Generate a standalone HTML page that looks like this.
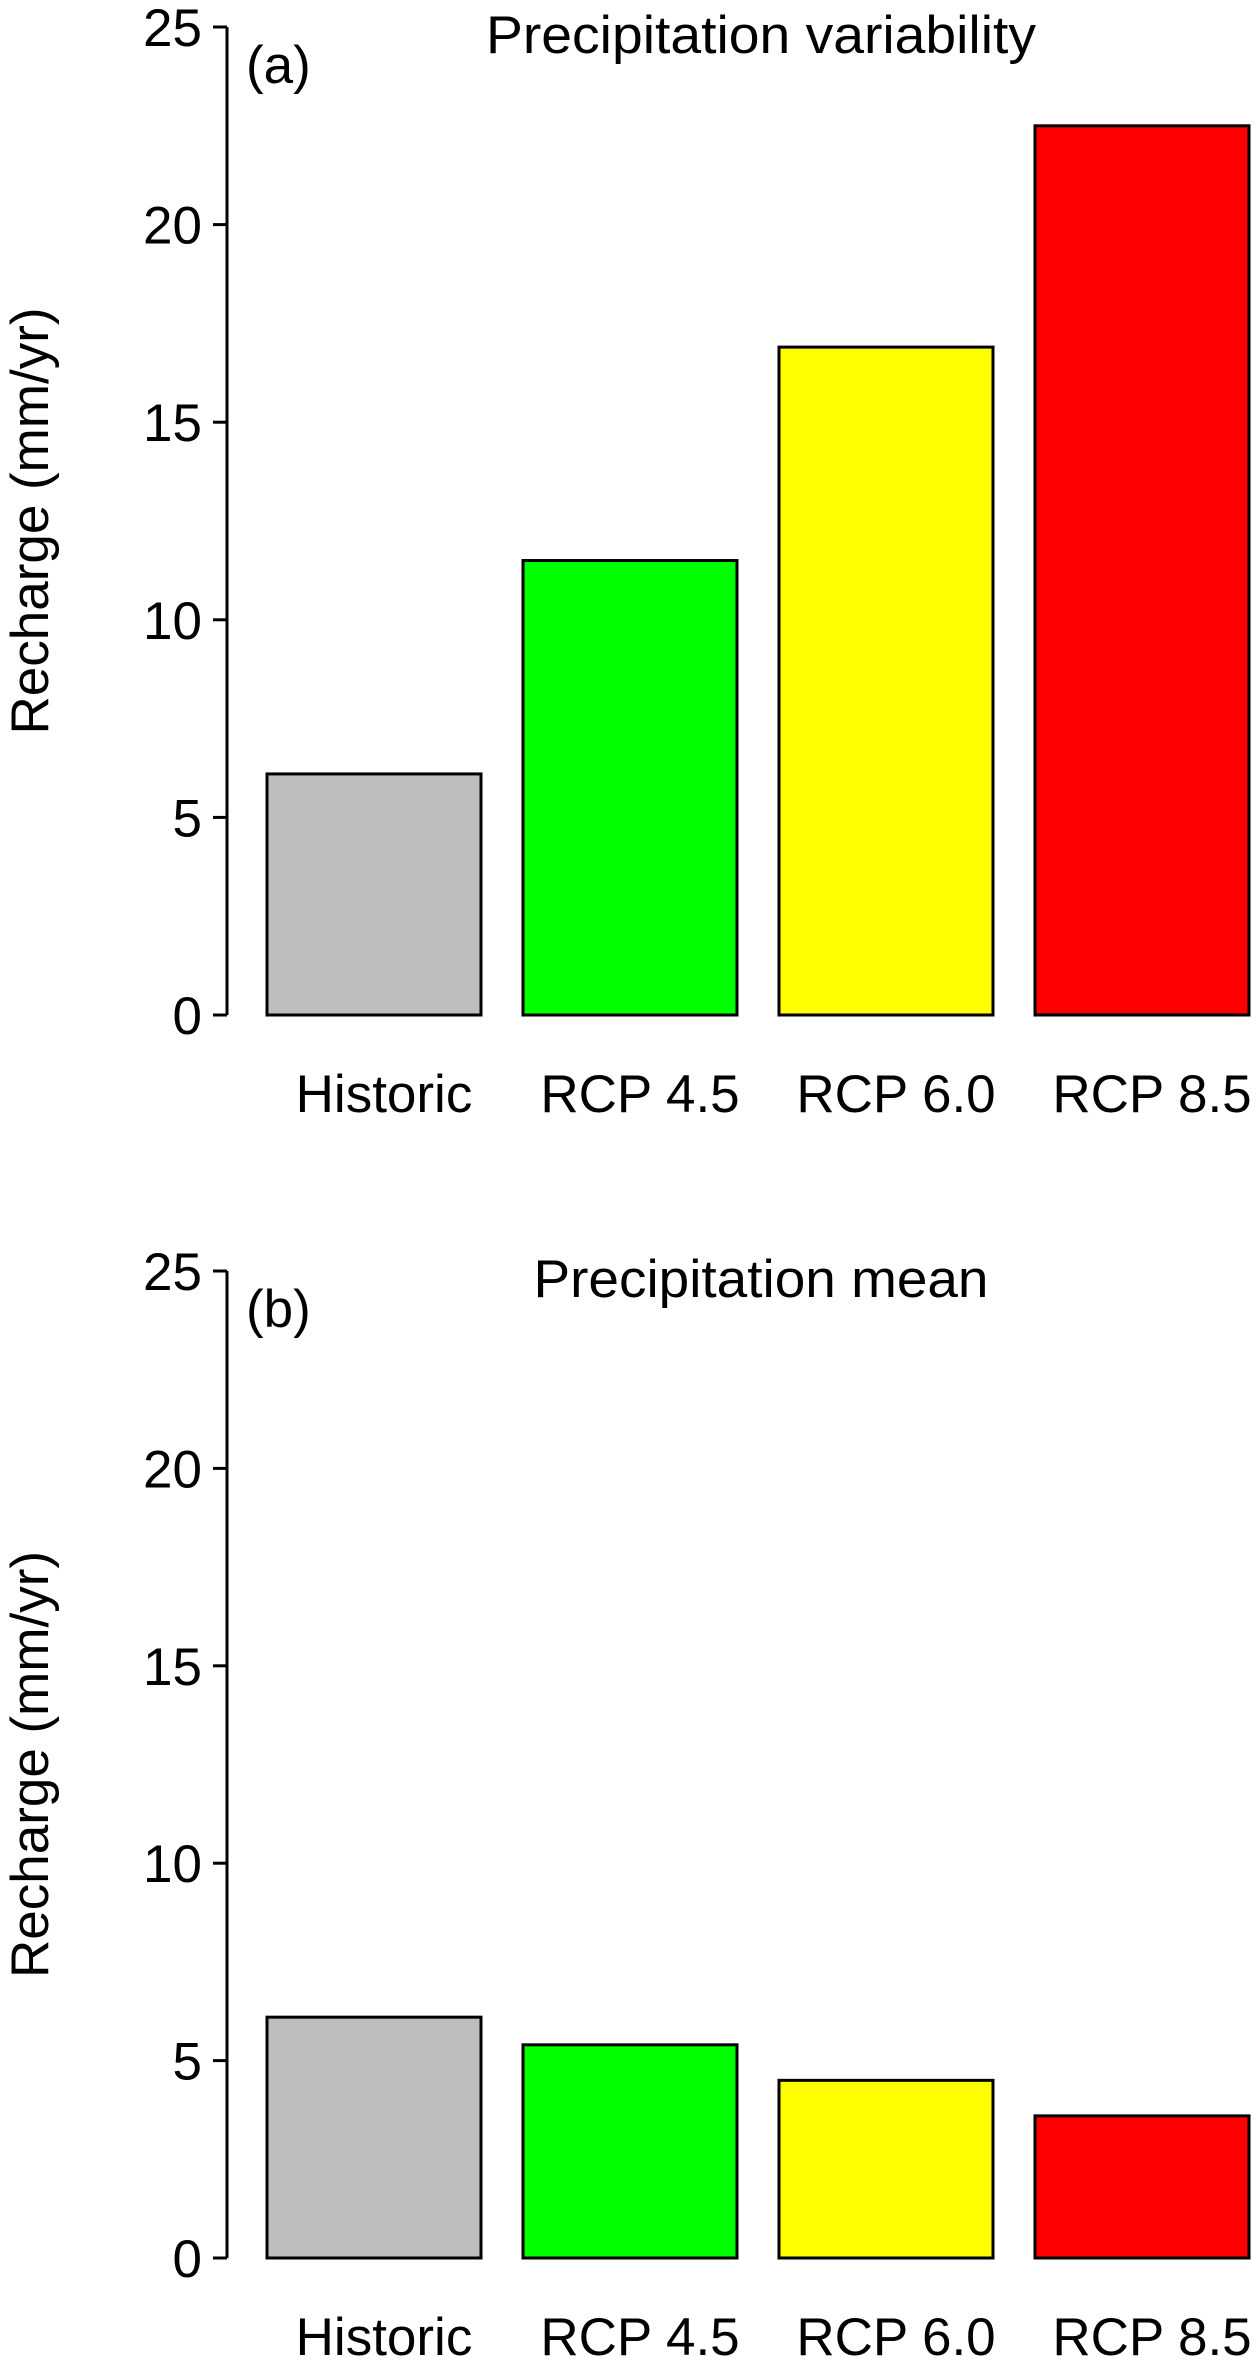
<!DOCTYPE html>
<html><head><meta charset="utf-8"><style>
html,body{margin:0;padding:0;background:#fff;}
svg{display:block;font-family:"Liberation Sans",Arial,sans-serif;}
</style></head><body>
<svg id="chart" width="1258" height="2375" viewBox="0 0 1258 2375" xmlns="http://www.w3.org/2000/svg"></svg>
<script>
const categories = ["Historic", "RCP 4.5", "RCP 6.0", "RCP 8.5"];
const colors = ["#bebebe", "#00ff00", "#ffff00", "#ff0000"];
const variabilityValues = [6.1, 11.5, 16.9, 22.5];
const meanValues = [6.1, 5.4, 4.5, 3.6];
const yTicks = [0, 5, 10, 15, 20, 25];

const NS = "http://www.w3.org/2000/svg";
const svg = document.getElementById("chart");
function mk(tag, attrs, parent) {
  const e = document.createElementNS(NS, tag);
  for (const k in attrs) e.setAttribute(k, attrs[k]);
  (parent || svg).appendChild(e);
  return e;
}

function panel(id, values, title, letter, top, bottom) {
  const g = mk("g", {});
  
  
  const yMax = 25;
  const y = v => bottom - (v / yMax) * (bottom - top);
  const axisX = 227;
  const x = i => 267 + i * 256;
  const barW = 214;

  const axis = mk("line", {x1: axisX, x2: axisX, y1: y(25), y2: y(0), stroke: "#000", "stroke-width": 3}, g);
  
  
  yTicks.forEach(t => {
    const tk = mk("line", {x1: axisX - 14, x2: axisX, y1: y(t), y2: y(t), stroke: "#000", "stroke-width": 3}, g);
    
    
    const tl = mk("text", {x: 202, y: y(t) + 19, "text-anchor": "end", "font-size": 53}, g);
    tl.textContent = t;
    
    
  });

  values.forEach((v, i) => {
    const r = mk("rect", {x: x(i), y: y(v), width: barW, height: y(0) - y(v), fill: colors[i], stroke: "#000", "stroke-width": 3}, g);
    
    
    const cl = mk("text", {x: x(i) + barW / 2 + 10, y: bottom + 97, "text-anchor": "middle", "font-size": 53}, g);
    cl.textContent = categories[i];
    
    
  });

  const tt = mk("text", {x: 761, y: top + 26, "text-anchor": "middle", "font-size": 53, textLength: title.length > 20 ? 550 : 455, lengthAdjust: "spacingAndGlyphs"}, g);
  tt.textContent = title;
  
  

  const pl = mk("text", {x: 246, y: top + 56, "font-size": 53}, g);
  pl.textContent = letter;
  
  

  const cy = (top + bottom) / 2;
  const yl = mk("text", {x: 0, y: 0, "text-anchor": "middle", "font-size": 53, transform: "translate(48," + cy + ") rotate(-90)"}, g);
  yl.textContent = "Recharge (mm/yr)";
  
  
}

panel("a", variabilityValues, "Precipitation variability", "(a)", 27, 1015);
panel("b", meanValues, "Precipitation mean", "(b)", 1271, 2258);
</script>
</body></html>
